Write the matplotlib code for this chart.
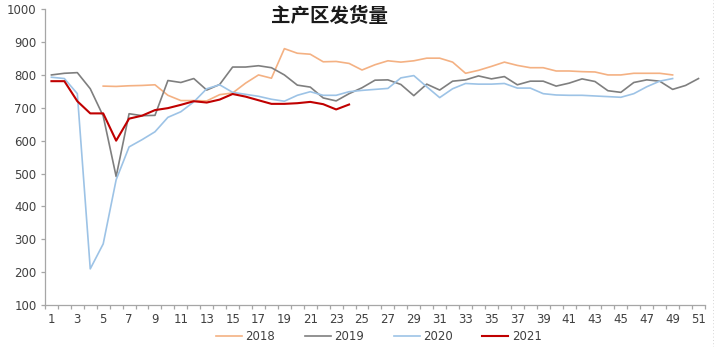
import matplotlib
matplotlib.use("Agg")
import matplotlib.pyplot as plt
import numpy as np

plt.rcParams['font.family'] = ['DejaVu Sans']

weeks = list(range(1, 52))

# 2018 starts at week 5, ends at week 49
w2018 = list(range(5, 50))
v2018 = [766, 765, 767, 768, 770, 738, 722, 722, 721, 740, 745, 775, 800, 790, 880,
         866, 863, 840, 841, 835, 815, 831, 843, 839, 843, 851, 851, 839, 805, 814,
         826, 839, 829, 822, 822, 812, 812, 810, 809, 800, 800, 805, 805, 805, 800]

w2019 = list(range(1, 52))
v2019 = [800, 805, 807, 758, 675, 491, 682, 676, 677, 783, 777, 789, 754, 771, 824,
         824, 828, 822, 800, 769, 763, 730, 721, 743, 761, 784, 785, 771, 737, 772,
         754, 781, 785, 797, 788, 795, 770, 781, 781, 766, 775, 788, 780, 752, 747,
         777, 785, 781, 756, 768, 789]

w2020 = list(range(1, 50))
v2020 = [793, 789, 743, 210, 286, 481, 581, 603, 627, 671, 688, 718, 758, 770, 747,
         741, 735, 726, 720, 738, 749, 738, 738, 749, 753, 756, 759, 791, 798, 764,
         731, 758, 774, 772, 772, 774, 760, 760, 743, 739, 738, 738, 736, 734, 732,
         743, 764, 781, 789]

w2021 = list(range(1, 25))
v2021 = [781, 781, 720, 683, 683, 600, 667, 676, 693, 699, 709, 720, 716, 725, 742,
         734, 723, 712, 712, 714, 718, 711, 695, 710]

series_names = ['2018', '2019', '2020', '2021']
colors = ['#F4B183', '#7F7F7F', '#9DC3E6', '#C00000']

fig = plt.figure(figsize=(7.16, 3.47), dpi=100)
ax = fig.add_axes([0.0628, 0.121, 0.9218, 0.8525])

ax.plot(w2018, v2018, color=colors[0], lw=1.2, label=series_names[0])
ax.plot(w2019, v2019, color=colors[1], lw=1.2, label=series_names[1])
ax.plot(w2020, v2020, color=colors[2], lw=1.2, label=series_names[2])
ax.plot(w2021, v2021, color=colors[3], lw=1.5, label=series_names[3])

ax.set_xlim(0.5, 51.5)
ax.set_ylim(100, 1000)
ax.set_yticks(np.arange(100, 1001, 100))
ax.set_xticks(weeks[::2])
ax.set_xticklabels([str(w) for w in weeks[::2]])
ax.set_xticks(np.arange(0.5, 52, 1), minor=True)

for s in ['top', 'right']:
    ax.spines[s].set_visible(False)
for s in ['left', 'bottom']:
    ax.spines[s].set_color('#A6A6A6')
    ax.spines[s].set_linewidth(0.9)

ax.tick_params(axis='x', which='major', length=0, labelsize=8.5, colors='#404040', pad=6)
ax.tick_params(axis='x', which='minor', length=3, color='#A6A6A6', width=0.9)
ax.tick_params(axis='y', length=3, color='#A6A6A6', width=0.9, labelsize=8.5,
               labelcolor='#404040', pad=3)

fig.text(0.46, 0.952, '主产区发货量', fontsize=14, fontweight='bold',
         family=['Noto Sans CJK SC', 'DejaVu Sans'], ha='center', va='center', color='#1a1a1a')

leg = ax.legend(loc='center', bbox_to_anchor=(0.506, -0.108), ncol=4, frameon=False,
                fontsize=8.5, handlelength=2.2, columnspacing=2.5, handletextpad=0.3,
                borderpad=0, borderaxespad=0)
for t in leg.get_texts():
    t.set_color('#404040')

fig.add_artist(plt.Line2D([0.996, 0.996], [0.0, 1.0], transform=fig.transFigure,
                          color='#C8C8C8', lw=0.6, ls=(0, (1, 3))))

fig.savefig('out.png', dpi=100)
